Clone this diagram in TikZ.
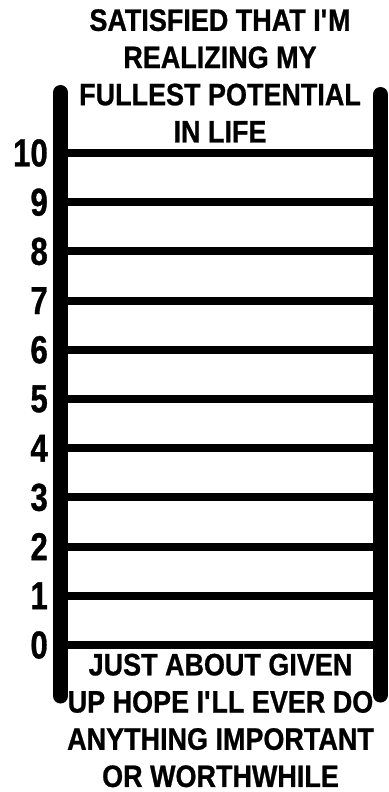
\documentclass[tikz,border=0pt]{standalone}
\usepackage{fontspec}
\usepackage{tikz}
\newfontfamily\ladderfont[FakeStretch=0.87, BoldFeatures={FakeBold=0.8}]{Liberation Sans}
\newfontfamily\rankfont[FakeStretch=0.8, BoldFeatures={FakeBold=0.8}]{Liberation Sans}
\usetikzlibrary{positioning,calc}

\begin{document}
\begin{tikzpicture}[
    x=1pt, y=-1pt,
    rail/.style={line width=15pt, line cap=round},
    rung/.style={line width=8pt},
    rank/.style={anchor=east, inner sep=0pt, font=\rankfont\bfseries\fontsize{39}{39}\selectfont},
    caption/.style={align=center, inner sep=0pt, anchor=north, font=\ladderfont\bfseries\fontsize{31}{37.2}\selectfont}
]

% Canvas
\fill[white] (0,0) rectangle (388,792);
\useasboundingbox (0,0) rectangle (388,792);

% Rails
\coordinate (lefttop) at (60.5,92.5);
\coordinate (leftbot) at (60.5,696);
\coordinate (righttop) at (380.5,94.5);
\coordinate (rightbot) at (380.5,695);
\draw[rail] (lefttop) -- (leftbot);
\draw[rail] (righttop) -- (rightbot);

% Rungs and ranks
\foreach \k in {0,...,10} {
  \node[rank] (r\k) at (48,645-49.2*\k) {\k};
  \draw[rung] (r\k.east -| lefttop) -- (r\k.east -| righttop);
}

% Captions
\node[caption] (best) at (220,9) {SATISFIED THAT I\textquotesingle M\\REALIZING MY\\FULLEST POTENTIAL\\IN LIFE};
\node[caption] (worst) at (220.5,653.5) {JUST ABOUT GIVEN\\UP HOPE I\textquotesingle LL EVER DO\\ANYTHING IMPORTANT\\OR WORTHWHILE};

\end{tikzpicture}
\end{document}
